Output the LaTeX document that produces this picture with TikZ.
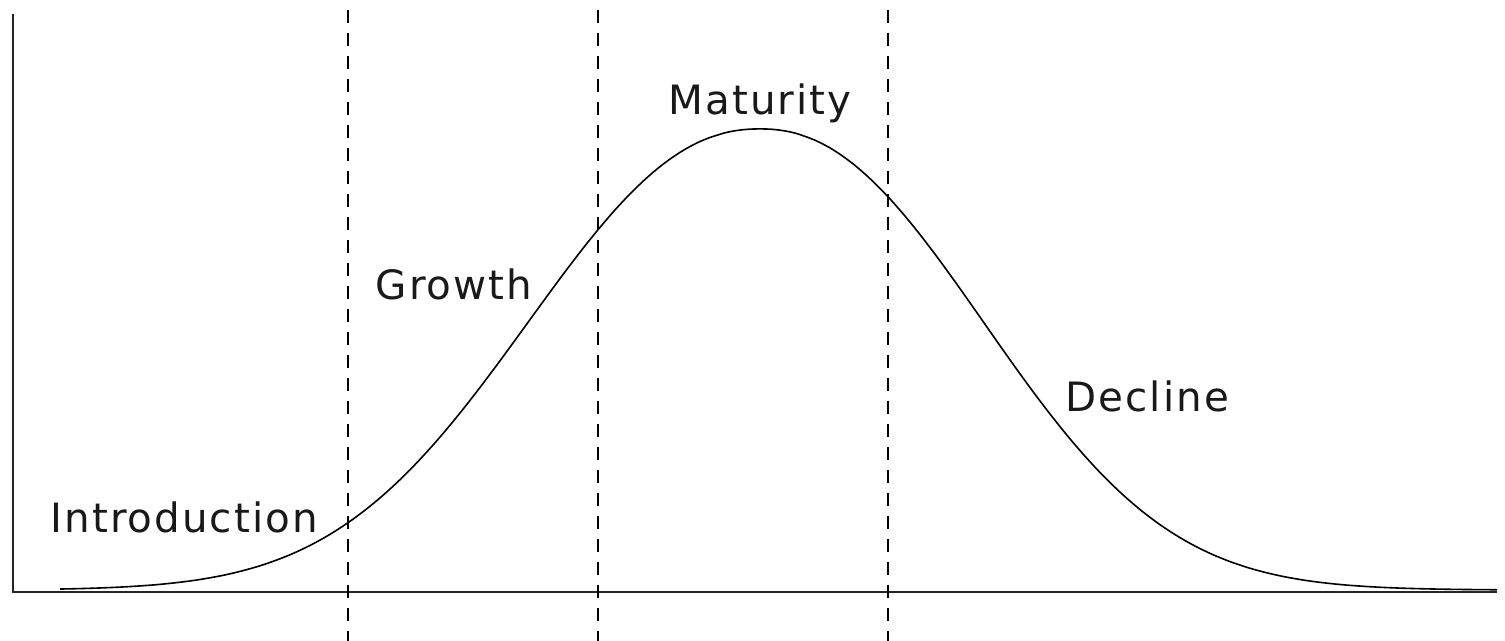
\documentclass[tikz,border=0pt]{standalone}
\usepackage{fontspec}
\setmainfont{DejaVu Sans}[LetterSpace=5]
\begin{document}
\begin{tikzpicture}[x=0.1mm,y=-0.1mm,
  axisline/.style={line width=0.2mm,black!85},
  phaseline/.style={line width=0.2mm,black,dash pattern=on 1.3mm off 1.0mm},
  curveline/.style={line width=0.16mm,black},
  lbl/.style={anchor=base west,inner sep=0pt,font=\fontsize{11.5pt}{13pt}\selectfont,text=black!90},
  declare function={sw(\t)=ifthenelse(\t<760,306,295);
                    lc(\t)=590-461*exp(-((abs(\t-760)+0.01)/sw(\t))^2.2);}]
\useasboundingbox (0,0) rectangle (1505,641);
% axes
\coordinate (otop) at (13,14);
\coordinate (orig) at (13,592);
\coordinate (xend) at (1497,592);
\draw[axisline] (otop) -- (orig) -- (xend);
% phase separators
\foreach \n/\x in {a/348,b/598,c/888}{
  \coordinate (\n1) at (\x,10);
  \coordinate (\n2) at (\x,641);
  \draw[phaseline] (\n1) -- (\n2);
}
% life-cycle curve
\draw[curveline] plot[domain=60:1497,samples=241,smooth] (\x,{lc(\x)});
% labels
\node[lbl] (intro) at (50,533) {Introduction};
\node[lbl] (growth) at (375,300) {Growth};
\node[lbl] (mat) at (668,115) {Maturity};
\node[lbl] (dec) at (1065,412) {Decline};
\end{tikzpicture}
\end{document}
